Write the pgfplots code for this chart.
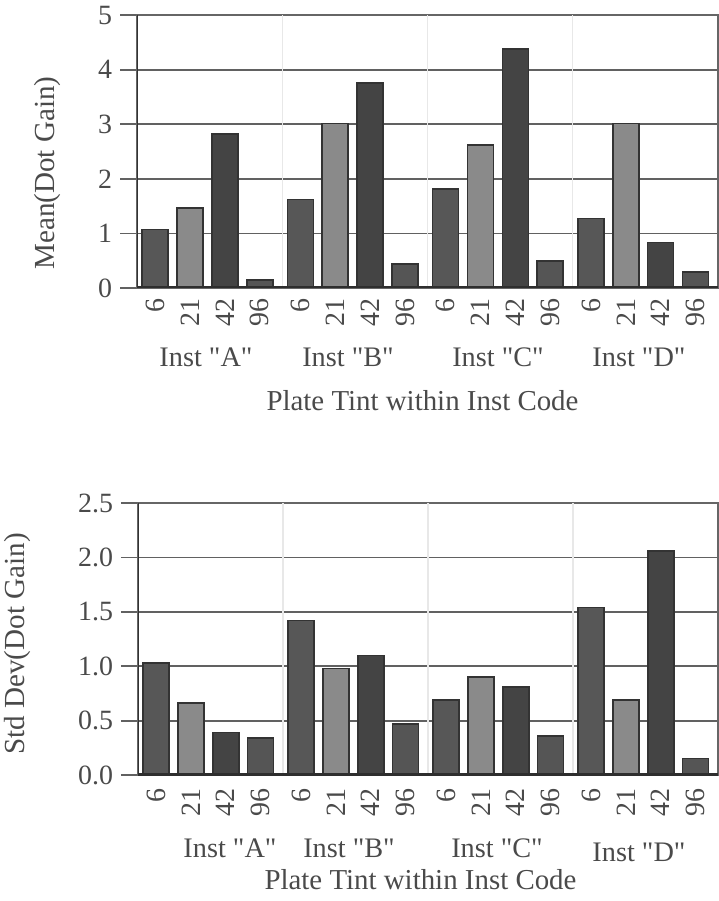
\documentclass[border=0pt]{standalone}
\usepackage{fontspec}
\setmainfont{Liberation Serif}
\usepackage{pgfplots}
\pgfplotsset{compat=1.18}
\definecolor{txt}{HTML}{4A4A4A}
\definecolor{cA}{HTML}{575757}
\definecolor{cB}{HTML}{8A8A8A}
\definecolor{cC}{HTML}{444444}
\definecolor{cD}{HTML}{555555}
\definecolor{edge}{HTML}{333333}
\newcommand{\q}{\textquotedbl}
\pgfplotsset{
  myax/.style={
    scale only axis,
    xmin=0, xmax=4, ymin=0,
    axis line style={black!60, line width=0.8bp},
    xtick={0.125,0.365,0.605,0.845,1.125,1.365,1.605,1.845,2.125,2.365,2.605,2.845,3.125,3.365,3.605,3.845},
    xticklabels={6,21,42,96,6,21,42,96,6,21,42,96,6,21,42,96},
    x tick style={draw=none},
    xticklabel style={rotate=90, anchor=east, font=\fontsize{14}{15}\selectfont, text=txt},
    xticklabel shift=-6.5bp,
    extra x ticks={1,2,3},
    extra x tick labels={},
    extra x tick style={xmajorgrids=true, major grid style={black!9, line width=0.6bp}, tick style={draw=none}},
    ymajorgrids=true,
    major grid style={black!62, line width=0.9bp},
    tick align=outside,
    major tick length=8.5bp,
    y tick style={black!62, line width=0.9bp},
    yticklabel style={font=\fontsize{14}{15}\selectfont, text=txt, xshift=-0.5bp},
    /pgf/number format/assume math mode=true,
    ybar, bar width=13bp, bar shift=0pt,
    every axis plot/.append style={draw=edge, line width=0.8bp},
  }
}
\begin{document}
\begin{tikzpicture}
\useasboundingbox (-68.5bp,-306.5bp) rectangle (291bp,144bp);
% ---------- top chart ----------
\begin{axis}[myax, at={(0bp,0bp)}, anchor=south west,
  width=290.5bp, height=136.5bp, ymax=5, ytick={0,1,2,3,4,5}]
\addplot[fill=cA] coordinates {(0.125,1.07) (1.125,1.62) (2.125,1.81) (3.125,1.27)};
\addplot[fill=cB] coordinates {(0.365,1.47) (1.365,3.01) (2.365,2.62) (3.365,3.01)};
\addplot[fill=cC] coordinates {(0.605,2.82) (1.605,3.76) (2.605,4.38) (3.605,0.83)};
\addplot[fill=cD] coordinates {(0.845,0.15) (1.845,0.44) (2.845,0.49) (3.845,0.29)};
\draw[black!80, line width=1.1bp] (rel axis cs:0,0) -- (rel axis cs:0,1);
\draw[black!82, line width=2.2bp] (rel axis cs:0,0) -- (rel axis cs:1,0);
\end{axis}
\node[rotate=90, text=txt, font=\fontsize{14.6}{16}\selectfont] at (-44.5bp,57.5bp) {Mean(Dot Gain)};
\begin{scope}[every node/.style={text=txt, font=\fontsize{14.2}{16}\selectfont}]
\node at (34.5bp,-34.5bp) {Inst \q A\q};
\node at (105.5bp,-34.5bp) {Inst \q B\q};
\node at (180.5bp,-34.5bp) {Inst \q C\q};
\node at (251bp,-34.5bp) {Inst \q D\q};
\node[font=\fontsize{14.5}{16}\selectfont] at (142.75bp,-56.5bp) {Plate Tint within Inst Code};
\end{scope}
% ---------- bottom chart ----------
\begin{axis}[myax, at={(0.5bp,-243.5bp)}, anchor=south west,
  width=290bp, height=136bp, ymax=2.5, ytick={0,0.5,1,1.5,2,2.5},
  xticklabel shift=-5bp,
  yticklabel style={/pgf/number format/.cd, fixed, fixed zerofill, precision=1}]
\addplot[fill=cA] coordinates {(0.125,1.03) (1.125,1.42) (2.125,0.69) (3.125,1.54)};
\addplot[fill=cB] coordinates {(0.365,0.66) (1.365,0.98) (2.365,0.90) (3.365,0.69)};
\addplot[fill=cC] coordinates {(0.605,0.39) (1.605,1.10) (2.605,0.81) (3.605,2.06)};
\addplot[fill=cD] coordinates {(0.845,0.34) (1.845,0.47) (2.845,0.36) (3.845,0.15)};
\draw[black!80, line width=1.1bp] (rel axis cs:0,0) -- (rel axis cs:0,1);
\draw[black!82, line width=2.2bp] (rel axis cs:0,0) -- (rel axis cs:1,0);
\end{axis}
\node[rotate=90, text=txt, font=\fontsize{14.6}{16}\selectfont] at (-59.5bp,-178bp) {Std Dev(Dot Gain)};
\begin{scope}[every node/.style={text=txt, font=\fontsize{14.2}{16}\selectfont}]
\node at (46.5bp,-280bp) {Inst \q A\q};
\node at (106bp,-280bp) {Inst \q B\q};
\node at (180bp,-280bp) {Inst \q C\q};
\node at (251bp,-282bp) {Inst \q D\q};
\node[font=\fontsize{14.5}{16}\selectfont] at (141.75bp,-296bp) {Plate Tint within Inst Code};
\end{scope}
\end{tikzpicture}
\end{document}
